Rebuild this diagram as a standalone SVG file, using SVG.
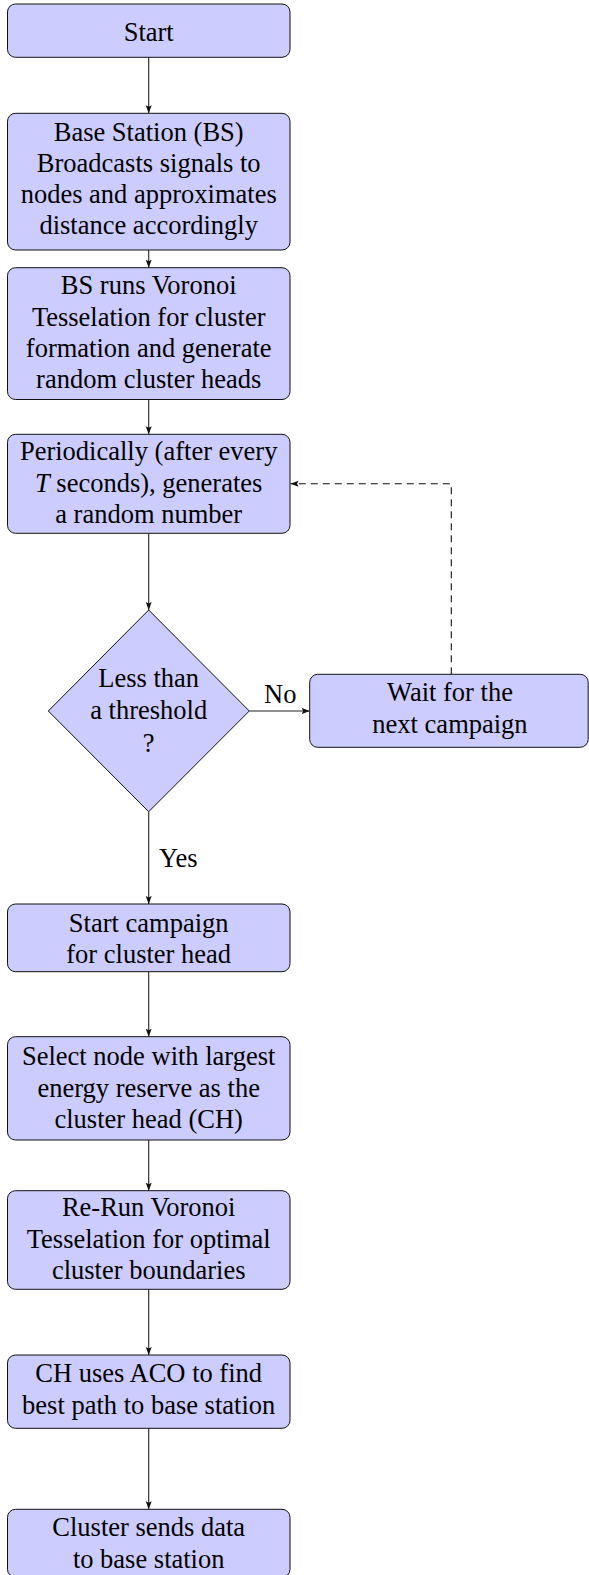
<svg xmlns="http://www.w3.org/2000/svg" width="589" height="1575" viewBox="0 0 589 1575">
<style>
.box{fill:#ccccff;stroke:#111;stroke-width:1}
.t{font-family:"Liberation Serif","Times New Roman",serif;font-size:26.5px;fill:#000;text-anchor:middle}
.l{font-family:"Liberation Serif","Times New Roman",serif;font-size:26.5px;fill:#000}
.c{fill:none;stroke:#222;stroke-width:1.1}
.d{fill:none;stroke:#111;stroke-width:1.1;stroke-dasharray:7 5}
</style>
<defs>
<marker id="ah" markerUnits="userSpaceOnUse" markerWidth="9" markerHeight="7" refX="8" refY="3.5" orient="auto">
<path d="M0,0.5 L8,3.5 L0,6.5 L1.5,3.5 z" fill="#111"/>
</marker>
</defs>
<g id="connectors">
<line class="c" x1="148.7" y1="57.3" x2="148.7" y2="113.3" marker-end="url(#ah)"/>
<line class="c" x1="148.7" y1="250" x2="148.7" y2="267.7" marker-end="url(#ah)"/>
<line class="c" x1="148.7" y1="399.5" x2="148.7" y2="434.3" marker-end="url(#ah)"/>
<line class="c" x1="148.7" y1="533.3" x2="148.7" y2="610" marker-end="url(#ah)"/>
<line class="c" x1="148.7" y1="811.7" x2="148.7" y2="904" marker-end="url(#ah)"/>
<text class="l" x="159" y="867">Yes</text>
<line class="c" x1="249.3" y1="711" x2="309.7" y2="711" marker-end="url(#ah)"/>
<text class="l" x="264" y="703">No</text>
<path class="d" d="M451.3,674.3 L451.3,483.8 L290.5,483.8" marker-end="url(#ah)"/>
<line class="c" x1="148.7" y1="971.7" x2="148.7" y2="1036.7" marker-end="url(#ah)"/>
<line class="c" x1="148.7" y1="1140" x2="148.7" y2="1190.7" marker-end="url(#ah)"/>
<line class="c" x1="148.7" y1="1289.3" x2="148.7" y2="1355" marker-end="url(#ah)"/>
<line class="c" x1="148.7" y1="1428.3" x2="148.7" y2="1509.3" marker-end="url(#ah)"/>
</g>
<g id="start">
<rect class="box" x="7.5" y="4" width="282.5" height="53.3" rx="8"/>
<text class="t" x="148.7" y="41">Start</text>
</g>
<g id="broadcast">
<rect class="box" x="7.5" y="113.3" width="282.5" height="136.7" rx="8"/>
<text class="t" x="148.7" y="140.5">Base Station (BS)</text>
<text class="t" x="148.7" y="171.5">Broadcasts signals to</text>
<text class="t" x="148.7" y="202.5">nodes and approximates</text>
<text class="t" x="148.7" y="233.5">distance accordingly</text>
</g>
<g id="voronoi">
<rect class="box" x="7.5" y="267.7" width="282.5" height="131.8" rx="8"/>
<text class="t" x="148.7" y="294">BS runs Voronoi</text>
<text class="t" x="148.7" y="325.5">Tesselation for cluster</text>
<text class="t" x="148.7" y="357">formation and generate</text>
<text class="t" x="148.7" y="388">random cluster heads</text>
</g>
<g id="periodic">
<rect class="box" x="7.5" y="434.3" width="282.5" height="99" rx="8"/>
<text class="t" x="148.7" y="460">Periodically (after every</text>
<text class="t" x="148.7" y="491.5"><tspan font-style="italic">T</tspan> seconds), generates</text>
<text class="t" x="148.7" y="523">a random number</text>
</g>
<g id="decision">
<polygon class="box" points="148.7,610 249.3,711 148.7,811.7 48.3,711"/>
<text class="t" x="148.7" y="687">Less than</text>
<text class="t" x="148.7" y="719">a threshold</text>
<text class="t" x="148.7" y="751.5">?</text>
</g>
<g id="wait">
<rect class="box" x="309.7" y="674.3" width="278.5" height="73" rx="8"/>
<text class="t" x="450" y="700.5">Wait for the</text>
<text class="t" x="450" y="732.5">next campaign</text>
</g>
<g id="campaign">
<rect class="box" x="7.5" y="904" width="282.5" height="67.7" rx="8"/>
<text class="t" x="148.7" y="932">Start campaign</text>
<text class="t" x="148.7" y="962.5">for cluster head</text>
</g>
<g id="select">
<rect class="box" x="7.5" y="1036.7" width="282.5" height="103.3" rx="8"/>
<text class="t" x="148.7" y="1065">Select node with largest</text>
<text class="t" x="148.7" y="1096.5">energy reserve as the</text>
<text class="t" x="148.7" y="1127.5">cluster head (CH)</text>
</g>
<g id="rerun">
<rect class="box" x="7.5" y="1190.7" width="282.5" height="98.6" rx="8"/>
<text class="t" x="148.7" y="1216">Re-Run Voronoi</text>
<text class="t" x="148.7" y="1247.5">Tesselation for optimal</text>
<text class="t" x="148.7" y="1279">cluster boundaries</text>
</g>
<g id="aco">
<rect class="box" x="7.5" y="1355" width="282.5" height="73.3" rx="8"/>
<text class="t" x="148.7" y="1382">CH uses ACO to find</text>
<text class="t" x="148.7" y="1413.5">best path to base station</text>
</g>
<g id="send">
<rect class="box" x="7.5" y="1509.3" width="282.5" height="68" rx="8"/>
<text class="t" x="148.7" y="1536">Cluster sends data</text>
<text class="t" x="148.7" y="1567.5">to base station</text>
</g>
</svg>
